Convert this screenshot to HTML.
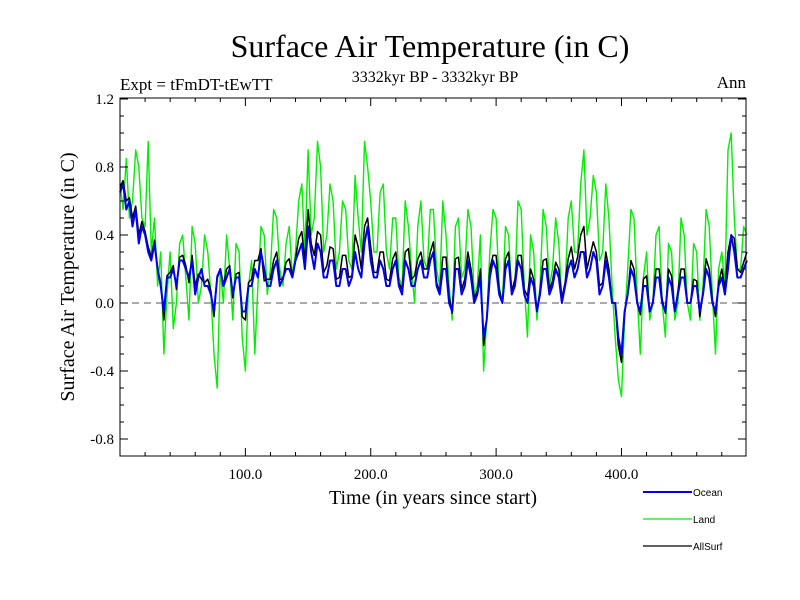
<!DOCTYPE html>
<html><head><meta charset="utf-8"><style>
body{margin:0;background:#fff}
svg{display:block}
text{font-family:"Liberation Serif",serif}
</style></head><body>
<svg id="chart" width="800" height="600">
<text x="430" y="57" font-size="32" text-anchor="middle">Surface Air Temperature (in C)</text>
<text x="120" y="90" font-size="17">Expt = tFmDT-tEwTT</text>
<text x="435" y="82" font-size="16" text-anchor="middle">3332kyr BP - 3332kyr BP</text>
<text x="746" y="88" font-size="17" text-anchor="end">Ann</text>
<text transform="translate(74,277) rotate(-90)" font-size="20" text-anchor="middle">Surface Air Temperature (in C)</text>
<text x="433" y="504" font-size="20" text-anchor="middle">Time (in years since start)</text>
<g id="marks"></g>
<g id="axes"></g>
<g id="legend"></g>
</svg>
<script>
const yTicks=[1.2,0.8,0.4,0.0,-0.4,-0.8];
const yTickLabels=["1.2","0.8","0.4","0.0","-0.4","-0.8"];
const xTicks=[100,200,300,400];
const xTickLabels=["100.0","200.0","300.0","400.0"];
const yearStep=2.5;
const land=[0.7,0.55,0.85,0.5,0.6,0.9,0.8,0.5,0.45,0.95,0.3,0.5,0.1,0.3,-0.3,0.05,0.3,-0.15,0.0,0.35,0.4,0.15,-0.1,0.45,0.35,0.0,0.1,0.4,0.3,0.05,-0.3,-0.5,0.2,0.0,0.4,0.2,-0.1,0.35,0.3,-0.2,-0.4,0.1,0.25,-0.3,0.1,0.45,0.4,0.05,0.2,0.55,0.5,0.2,0.1,0.35,0.45,0.15,0.3,0.6,0.7,0.3,0.9,0.4,0.5,0.95,0.8,0.3,0.4,0.7,0.6,0.2,0.3,0.6,0.55,0.25,0.2,0.75,0.5,0.3,0.95,0.8,0.6,0.3,0.3,0.65,0.7,0.3,0.2,0.5,0.5,0.15,0.1,0.6,0.45,0.2,0.0,0.45,0.6,0.25,0.2,0.55,0.55,0.2,0.1,0.6,0.4,0.1,-0.1,0.45,0.5,0.15,0.2,0.55,0.45,0.05,0.1,0.4,-0.4,-0.1,0.3,0.55,0.5,0.1,0.0,0.45,0.4,0.05,0.1,0.6,0.55,0.1,-0.2,0.4,0.3,-0.1,0.1,0.55,0.45,0.1,0.2,0.5,0.35,0.0,0.1,0.5,0.6,0.3,0.3,0.7,0.9,0.4,0.5,0.75,0.65,0.25,0.3,0.7,0.5,0.1,-0.2,-0.45,-0.55,-0.1,0.2,0.55,0.5,0.05,-0.3,0.15,0.3,-0.1,0.0,0.4,0.45,0.0,-0.2,0.35,0.3,-0.1,0.0,0.5,0.4,0.0,-0.1,0.35,0.3,-0.1,0.1,0.55,0.45,0.05,-0.3,0.2,0.3,0.1,0.9,1.0,0.5,0.2,0.2,0.45,0.4];
const ocean=[0.65,0.7,0.55,0.6,0.45,0.55,0.35,0.45,0.4,0.3,0.25,0.35,0.2,0.1,-0.05,0.15,0.15,0.2,0.1,0.25,0.25,0.2,0.15,0.25,0.05,0.15,0.2,0.1,0.1,0.05,-0.05,0.15,0.2,0.1,0.15,0.2,0.05,0.15,0.15,-0.05,-0.05,0.1,0.1,0.2,0.15,0.3,0.2,0.1,0.1,0.2,0.25,0.1,0.15,0.2,0.2,0.15,0.25,0.3,0.35,0.2,0.45,0.3,0.2,0.35,0.3,0.15,0.15,0.25,0.25,0.1,0.1,0.2,0.2,0.1,0.15,0.3,0.2,0.15,0.35,0.45,0.25,0.15,0.15,0.25,0.2,0.1,0.1,0.2,0.25,0.1,0.05,0.25,0.2,0.1,0.1,0.2,0.25,0.15,0.15,0.25,0.3,0.1,0.05,0.2,0.2,0.0,-0.05,0.2,0.2,0.05,0.1,0.25,0.15,0.0,0.05,0.15,-0.2,-0.1,0.15,0.25,0.2,0.05,0.0,0.2,0.25,0.05,0.1,0.25,0.2,0.05,0.0,0.15,0.1,-0.05,0.05,0.2,0.2,0.05,0.1,0.2,0.15,0.0,0.1,0.2,0.25,0.15,0.2,0.3,0.3,0.15,0.2,0.3,0.25,0.05,0.1,0.25,0.15,0.0,0.0,-0.2,-0.3,-0.05,0.05,0.2,0.15,0.0,-0.05,0.1,0.1,-0.05,0.0,0.15,0.15,0.0,-0.05,0.15,0.1,-0.05,0.05,0.15,0.15,0.0,0.0,0.1,0.1,-0.05,0.05,0.2,0.15,0.0,-0.05,0.1,0.15,0.05,0.2,0.4,0.3,0.15,0.15,0.2,0.25];
const allSurf=[0.68,0.72,0.6,0.62,0.5,0.57,0.4,0.48,0.42,0.33,0.27,0.37,0.2,0.12,-0.1,0.16,0.18,0.22,0.08,0.27,0.28,0.22,0.12,0.28,0.1,0.17,0.14,0.12,0.14,0.07,-0.08,0.16,0.2,0.1,0.2,0.22,0.03,0.17,0.18,-0.08,-0.1,0.12,0.14,0.25,0.25,0.32,0.13,0.14,0.14,0.25,0.3,0.14,0.14,0.24,0.26,0.16,0.26,0.38,0.42,0.25,0.55,0.35,0.28,0.42,0.4,0.18,0.22,0.33,0.32,0.14,0.15,0.28,0.28,0.15,0.16,0.4,0.33,0.2,0.45,0.5,0.33,0.18,0.18,0.3,0.3,0.14,0.13,0.26,0.3,0.12,0.08,0.3,0.32,0.14,0.16,0.26,0.3,0.2,0.2,0.3,0.36,0.12,0.07,0.27,0.27,0.04,-0.06,0.26,0.27,0.08,0.14,0.3,0.2,0.03,0.07,0.2,-0.25,-0.1,0.2,0.28,0.28,0.08,0.0,0.26,0.3,0.07,0.14,0.28,0.28,0.08,0.04,0.2,0.14,-0.04,0.07,0.25,0.26,0.08,0.13,0.24,0.2,0.03,0.12,0.26,0.33,0.2,0.27,0.4,0.45,0.2,0.28,0.36,0.3,0.1,0.12,0.3,0.2,0.0,0.0,-0.25,-0.35,-0.06,0.05,0.25,0.2,0.0,-0.07,0.14,0.16,-0.05,0.0,0.2,0.2,0.02,-0.06,0.2,0.16,-0.05,0.07,0.2,0.2,0.0,0.0,0.14,0.13,-0.08,0.06,0.26,0.2,0.02,-0.08,0.12,0.2,0.08,0.3,0.4,0.38,0.2,0.18,0.24,0.3];

const X0=120,X1=746,Y0=98,Y1=456;
const xs=v=>X0+v*1.2537;
const ys=v=>303-v*170;
const NS="http://www.w3.org/2000/svg";
const marks=document.getElementById('marks'),axes=document.getElementById('axes'),legend=document.getElementById('legend');
function mk(tag,attrs,parent){const e=document.createElementNS(NS,tag);for(const k in attrs)e.setAttribute(k,attrs[k]);parent.appendChild(e);return e;}

let zl=mk('line',{x1:X0,x2:X1,y1:ys(0),y2:ys(0),stroke:'#555','stroke-width':1,'stroke-dasharray':'7,5'},marks);



function series(vals,color,w,name){
  const d=vals.map((v,i)=>(i?'L':'M')+xs(Math.min(500,i*yearStep)).toFixed(1)+','+ys(v).toFixed(1)).join('');
  const p=mk('path',{d:d,fill:'none',stroke:color,'stroke-width':w,'stroke-linejoin':'round'},marks);
  
  
}
series(land,'#00ee00',1.4,'land-series');
series(allSurf,'#000',1.5,'allsurf-series');
series(ocean,'#0000ee',2,'ocean-series');

let fr=mk('rect',{x:X0,y:Y0,width:X1-X0,height:Y1-Y0,fill:'none',stroke:'#000','stroke-width':1},axes);


for(let k=-9;k<=12;k++){const v=k/10,y=ys(v),L=(k%4===0)?8:4;
  mk('line',{x1:X0,x2:X0+L,y1:y,y2:y,stroke:'#000'},axes);
  mk('line',{x1:X1,x2:X1-L,y1:y,y2:y,stroke:'#000'},axes);}
yTicks.forEach((v,i)=>{const t=mk('text',{x:X0-6,y:ys(v)+5,'font-size':15,'text-anchor':'end'},axes);t.textContent=yTickLabels[i];
  
  });
for(let yr=20;yr<500;yr+=20){const x=xs(yr),L=(yr%100===0)?8:4;
  mk('line',{x1:x,x2:x,y1:Y1,y2:Y1-L,stroke:'#000'},axes);
  mk('line',{x1:x,x2:x,y1:Y0,y2:Y0+L,stroke:'#000'},axes);}
xTicks.forEach((v,i)=>{const t=mk('text',{x:xs(v),y:479,'font-size':15,'text-anchor':'middle'},axes);t.textContent=xTickLabels[i];
  
  });

const legNames=["Ocean","Land","AllSurf"],legColors=["#0000ee","#00ee00","#000"];
legNames.forEach((n,i)=>{const y=492+i*27;
  const g=mk('g',{},legend);
  
  
  mk('line',{x1:643,x2:692,y1:y,y2:y,stroke:legColors[i],'stroke-width':i===0?2:1.3},g);
  const t=mk('text',{x:693,y:y+4,'font-size':10,style:'font-family:"Liberation Sans",sans-serif'},g);t.textContent=n;});
</script>
</body></html>
